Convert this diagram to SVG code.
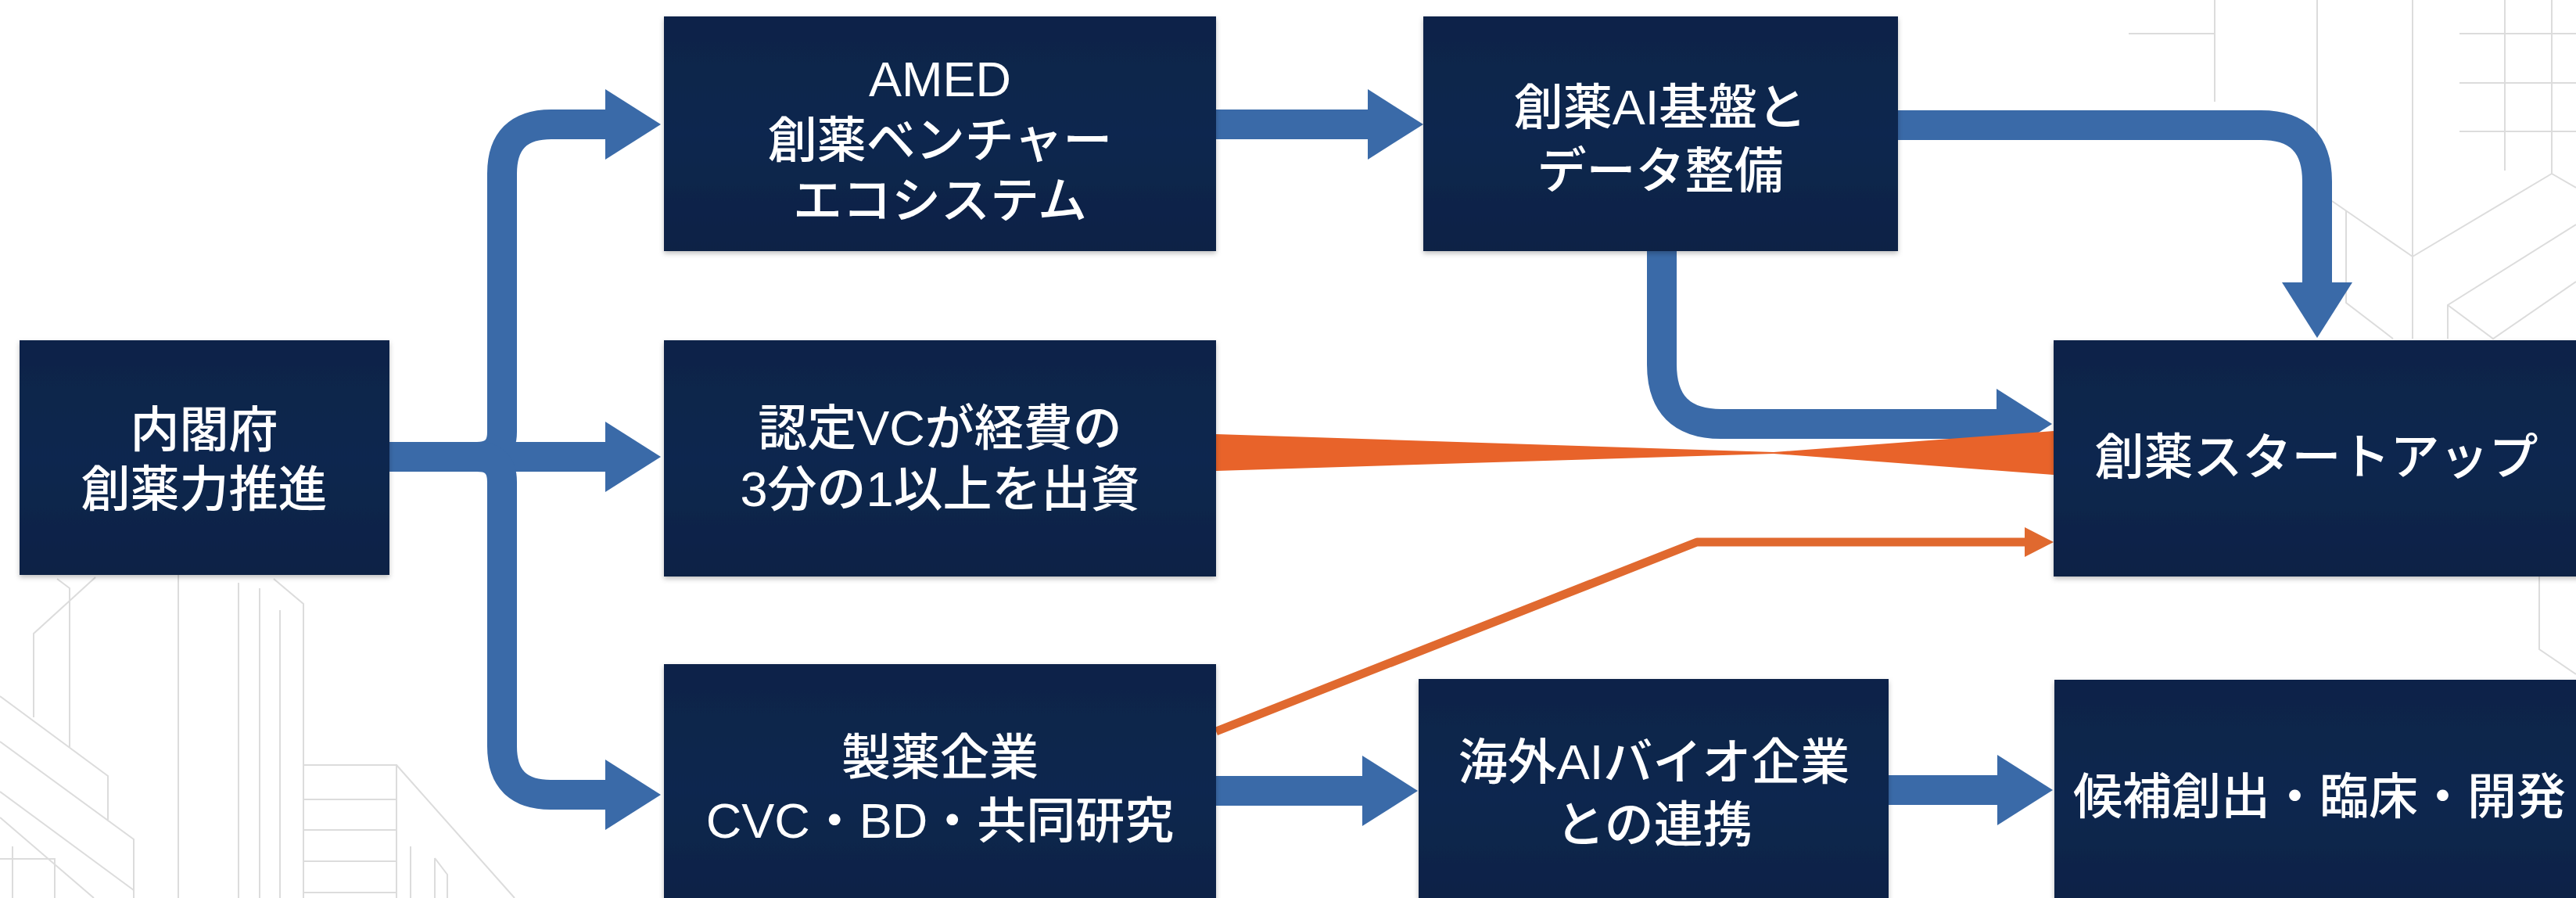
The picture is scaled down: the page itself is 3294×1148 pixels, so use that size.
<svg xmlns="http://www.w3.org/2000/svg" width="3294" height="1148" viewBox="0 0 3294 1148">
<style>
.bg{fill:none;stroke:#dcdcdc;stroke-width:2}
.node{fill:url(#navy);filter:url(#sh)}
.t{font-family:"Liberation Sans","Noto Sans CJK JP",sans-serif;font-size:63px;font-weight:500;fill:#ffffff;text-anchor:middle;dominant-baseline:central}
.blue{fill:none;stroke:#3a6aa8;stroke-width:38;stroke-linecap:butt;stroke-linejoin:round}
.orThin{fill:none;stroke:#e0692f;stroke-width:11;stroke-linejoin:round}
</style>
<defs>
<linearGradient id="navy" x1="0" y1="0" x2="0" y2="1">
<stop offset="0" stop-color="#0d2348"/>
<stop offset="0.5" stop-color="#0f284f"/>
<stop offset="1" stop-color="#0c2145"/>
</linearGradient>
<filter id="sh" x="-5%" y="-5%" width="110%" height="115%">
<feDropShadow dx="0" dy="3" stdDeviation="3" flood-color="#000" flood-opacity="0.25"/>
</filter>
<marker id="bh" markerUnits="userSpaceOnUse" markerWidth="72" markerHeight="90" viewBox="0 0 72 90" refX="1" refY="45" orient="auto">
<path d="M0,0 L71,45 L0,90 Z" fill="#3a6aa8"/>
</marker>
<marker id="oh" markerUnits="userSpaceOnUse" markerWidth="38" markerHeight="40" viewBox="0 0 38 40" refX="1" refY="20" orient="auto">
<path d="M0,1 L37,20 L0,39 Z" fill="#e0692f"/>
</marker>
</defs>
<rect width="3294" height="1148" fill="#ffffff"/>
<g id="background">
<path class="bg" d="M73,740 L89,752 V955"/>
<path class="bg" d="M122,738 L43,810 V917"/>
<path class="bg" d="M0,890 L138,992 V1048"/>
<path class="bg" d="M0,948 L171,1073 V1148"/>
<path class="bg" d="M0,1012 L171,1138"/>
<path class="bg" d="M0,1045 L120,1148"/>
<path class="bg" d="M0,1098 H70 V1148 M16,1082 V1148"/>
<path class="bg" d="M228,735 V1148 M305,745 V1148 M332,752 V1148 M358,780 V1148"/>
<path class="bg" d="M350,740 L388,772 V1148"/>
<path class="bg" d="M388,978 H507 V1148 M388,1022 H507 M388,1061 H507 M388,1101 H507 M388,1141 H507"/>
<path class="bg" d="M507,978 L658,1148"/>
<path class="bg" d="M525,1082 V1148 M556,1097 L572,1118 V1148 M556,1097 V1148"/>
<path class="bg" d="M2722,43 H2832 M2832,0 V130"/>
<path class="bg" d="M2963,0 V260 M3085,0 V433"/>
<path class="bg" d="M3203,0 V218 M3263,0 V222"/>
<path class="bg" d="M3145,43 H3294 M3145,106 H3294 M3145,168 H3294"/>
<path class="bg" d="M3263,222 L3085,328 M3263,222 L3294,240 M2982,257 L3085,328"/>
<path class="bg" d="M3000,270 V387 L3060,433"/>
<path class="bg" d="M3130,433 V390 L3294,287 M3130,390 L3188,433 L3294,360"/>
<path class="bg" d="M3247,737 V830 L3294,862"/>
</g>
<g id="connectors">
<path class="blue" d="M498,584 H610 Q642,584 642,552 V222 Q642,159 705,159 H775" marker-end="url(#bh)"/>
<path class="blue" d="M498,584 H775" marker-end="url(#bh)"/>
<path class="blue" d="M498,584 H610 Q642,584 642,616 V954 Q642,1016 704,1016 H775" marker-end="url(#bh)"/>
<path class="blue" d="M1555,159 H1750" marker-end="url(#bh)"/>
<path class="blue" d="M2427,160 H2891 Q2963,160 2963,232 V362" marker-end="url(#bh)"/>
<path class="blue" d="M2125,321 V466 Q2125,542 2201,542 H2554" marker-end="url(#bh)"/>
<path class="blue" d="M1555,1011 H1743" marker-end="url(#bh)"/>
<path class="blue" d="M2415,1010 H2555" marker-end="url(#bh)"/>
<path d="M1555,555 L2268,578 L2626,551 L2626,607 L2268,580 L1555,602 Z" fill="#e8632a"/>
<path class="orThin" d="M1555,935 L2170,693 H2590" marker-end="url(#oh)"/>
</g>
<g id="node-naikakufu">
<rect class="node" x="25" y="435" width="473" height="300"/>
<text class="t" x="261" y="549">内閣府<tspan x="261" dy="76">創薬力推進</tspan></text>
</g>
<g id="node-amed">
<rect class="node" x="849" y="21" width="706" height="300"/>
<text class="t" x="1202" y="101">AMED<tspan x="1202" dy="78">創薬ベンチャー</tspan><tspan x="1202" dy="77">エコシステム</tspan></text>
</g>
<g id="node-ai">
<rect class="node" x="1820" y="21" width="607" height="300"/>
<text class="t" x="2123" y="137">創薬AI基盤と<tspan x="2123" dy="81">データ整備</tspan></text>
</g>
<g id="node-vc">
<rect class="node" x="849" y="435" width="706" height="302"/>
<text class="t" x="1202" y="547">認定VCが経費の<tspan x="1202" dy="78">3分の1以上を出資</tspan></text>
</g>
<g id="node-pharma">
<rect class="node" x="849" y="849" width="706" height="320"/>
<text class="t" x="1202" y="968">製薬企業<tspan x="1202" dy="81">CVC・BD・共同研究</tspan></text>
</g>
<g id="node-overseas">
<rect class="node" x="1814" y="868" width="601" height="300"/>
<text class="t" x="2115" y="974">海外AIバイオ企業<tspan x="2115" dy="80">との連携</tspan></text>
</g>
<g id="node-startup">
<rect class="node" x="2626" y="435" width="700" height="302"/>
<text class="t" x="2962" y="584">創薬スタートアップ</text>
</g>
<g id="node-candidate">
<rect class="node" x="2627" y="869" width="700" height="300"/>
<text class="t" x="2966" y="1018">候補創出・臨床・開発</text>
</g>
</svg>
